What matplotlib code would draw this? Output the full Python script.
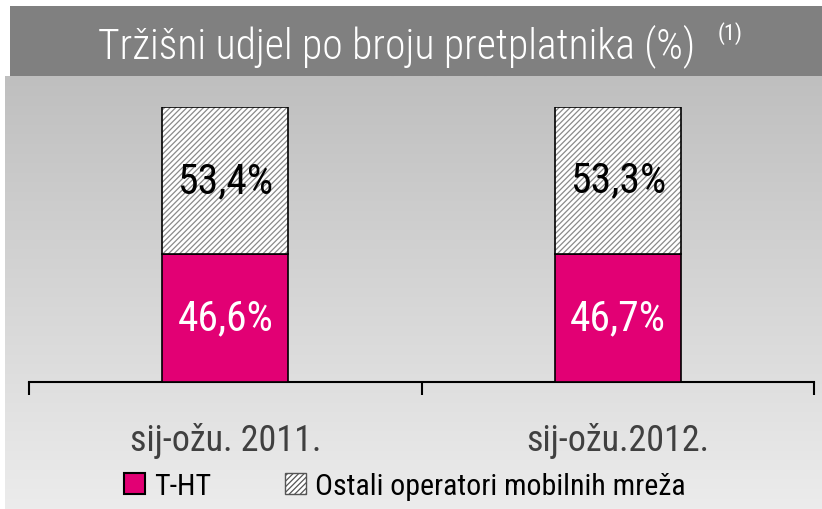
import numpy as np
import matplotlib.pyplot as plt
from matplotlib.patches import Patch, Rectangle
from matplotlib.colors import LinearSegmentedColormap

categories = ['sij-ožu. 2011.', 'sij-ožu.2012.']
tht = [46.6, 46.7]
ostali = [53.4, 53.3]
series_names = ['T-HT', 'Ostali operatori mobilnih mreža']
title = 'Tržišni udjel po broju pretplatnika (%)'

magenta = '#E20074'
plt.rcParams['font.family'] = ['Roboto Condensed', 'Archivo Narrow', 'PT Sans Narrow',
                               'Sofia Sans Condensed', 'DejaVu Sans']
plt.rcParams['hatch.linewidth'] = 0.9

W, H = 822, 510
fig = plt.figure(figsize=(W / 100, H / 100), dpi=100)

# gradient panel
bg = fig.add_axes([5 / W, 0, 1 - 5 / W, 433 / H])
grad = np.linspace(0, 1, 256).reshape(-1, 1)
cm = LinearSegmentedColormap.from_list('g', ['#ececec', '#bfbfbf'])
bg.imshow(grad, aspect='auto', cmap=cm, origin='lower', extent=[0, 1, 0, 1])
bg.axis('off')

# title band
fig.patches.append(Rectangle((10 / W, 1 - 77 / H), 1 - 10 / W, 70 / H,
                             transform=fig.transFigure, facecolor='#808080',
                             edgecolor='none', zorder=0))
fig.text(397 / W, 1 - 46 / H, title, color='white', fontsize=30,
         fontweight='light', ha='center', va='center')
fig.text(718 / W, 1 - 34 / H, '(1)', color='white', fontsize=16,
         ha='left', va='center')

ax = fig.add_axes([29 / W, 1 - 383 / H, (814 - 29) / W, (383 - 108) / H])
ax.patch.set_alpha(0)
x = np.arange(len(categories))
bw = 0.32
ax.bar(x, tht, bw, color=magenta, edgecolor='black', linewidth=1.2, zorder=3)
ax.bar(x, ostali, bw, bottom=tht, color='white', edgecolor='#8a8a8a',
       hatch='//////', linewidth=0, zorder=3)
ax.bar(x, ostali, bw, bottom=tht, fill=False, edgecolor='black',
       linewidth=1.2, zorder=4)
for i in range(len(categories)):
    ax.text(x[i], tht[i] / 2, f'{tht[i]:.1f}%'.replace('.', ','),
            ha='center', va='center', color='white', fontsize=30, zorder=5)
    ax.text(x[i], tht[i] + ostali[i] / 2, f'{ostali[i]:.1f}%'.replace('.', ','),
            ha='center', va='center', color='black', fontsize=30, zorder=5)

ax.set_xlim(-0.5, 1.5)
ax.set_ylim(0, 100)
for s in ['top', 'right', 'left']:
    ax.spines[s].set_visible(False)
ax.spines['bottom'].set_linewidth(1.5)
ax.set_yticks([])
ax.set_xticks([-0.5, 0.5, 1.5])
ax.set_xticklabels([])
ax.tick_params(axis='x', length=9, width=1.5, direction='out')
for i, c in enumerate(categories):
    ax.text(x[i], -21, c, ha='center', va='center', fontsize=26,
            color='#404040', clip_on=False)

handles = [Patch(facecolor=magenta, edgecolor='black', linewidth=1.5),
           Patch(facecolor='white', edgecolor='#555555', hatch='//////',
                 linewidth=1)]
fig.legend(handles, series_names, loc='center', bbox_to_anchor=(0.4925, 1 - 487 / H),
           ncol=2, frameon=False, fontsize=21.5, handlelength=0.7,
           handleheight=0.7, handletextpad=0.3, columnspacing=2.5)

fig.savefig('out.png', dpi=100)
